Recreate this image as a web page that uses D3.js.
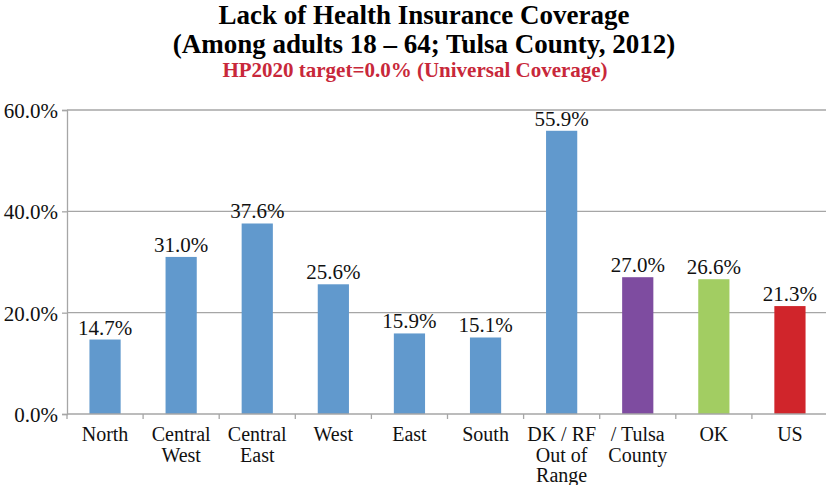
<!DOCTYPE html>
<html><head><meta charset="utf-8">
<script src="https://cdn.jsdelivr.net/npm/d3@7"></script>
<style>body{margin:0;background:#fff;} svg{display:block;} svg text{font-family:"Liberation Serif","Times New Roman",serif;}</style>
</head><body>
<svg id="c" width="826" height="485"></svg>
<script>
const categories = ["North","Central West","Central East","West","East","South","DK / RF Out of Range","Tulsa County","OK","US"];
const labelLines = [["North"],["Central","West"],["Central","East"],["West"],["East"],["South"],["DK / RF","Out of","Range"],["/ Tulsa","County"],["OK"],["US"]];
const values = [14.7,31.0,37.6,25.6,15.9,15.1,55.9,27.0,26.6,21.3];
const barColors = ["#6199cd","#6199cd","#6199cd","#6199cd","#6199cd","#6199cd","#6199cd","#7e4ca0","#a2cd62","#d0252b"];
const yTicks = [0,20,40,60];
const FONT = "'Liberation Serif','Times New Roman',serif";

const svg = d3.select("#c");
const x = d3.scaleBand().domain(categories).range([67,828]).paddingInner(0.59).paddingOuter(0.295);
const xb = d3.scaleBand().domain(categories).range([67,828]);
const y = d3.scaleLinear().domain([0,60]).range([414,110]);

// gridlines
svg.append("g").selectAll("line").data(yTicks.filter(d=>d>0)).join("line")
  .attr("x1",67).attr("x2",826).attr("y1",d=>y(d)).attr("y2",d=>y(d))
  .attr("stroke","#a6a6a6").attr("stroke-width",1.3);

// y axis
const ya = svg.append("g").attr("transform","translate(67,0)")
  .call(d3.axisLeft(y).tickValues(yTicks).tickSize(5).tickFormat(d=>d.toFixed(1)+"%"));
ya.attr("font-family",FONT);
ya.select(".domain").attr("stroke","#a6a6a6").attr("stroke-width",1.3);
ya.selectAll(".tick line").attr("stroke","#a6a6a6").attr("stroke-width",1.3);
ya.selectAll("text").attr("font-size","21px").attr("font-family",FONT).attr("fill","#111").attr("dy","0.35em").attr("x",-9);

// bars
svg.append("g").selectAll("rect").data(values).join("rect")
  .attr("x",(d,i)=>x(categories[i])).attr("width",x.bandwidth())
  .attr("y",d=>y(d)).attr("height",d=>y(0)-y(d)).attr("fill",(d,i)=>barColors[i]);

// x axis
svg.append("line").attr("x1",67).attr("x2",826).attr("y1",y(0)).attr("y2",y(0)).attr("stroke","#a6a6a6").attr("stroke-width",1.3);
const bounds = categories.map(c=>xb(c)).concat([xb(categories[categories.length-1])+xb.bandwidth()]);
svg.append("g").selectAll("line").data(bounds).join("line")
  .attr("x1",d=>d).attr("x2",d=>d).attr("y1",y(0)).attr("y2",y(0)+5)
  .attr("stroke","#a6a6a6").attr("stroke-width",1.3);

// category labels
const cl = svg.append("g").attr("font-size","20px").attr("font-family",FONT).attr("fill","#111").attr("text-anchor","middle");
labelLines.forEach((lines,i)=>{
  const cx = xb(categories[i])+xb.bandwidth()/2;
  lines.forEach((ln,j)=>cl.append("text").attr("x",cx).attr("y",441 + j*20.5).text(ln));
});

// data labels
svg.append("g").selectAll("text").data(values).join("text")
  .attr("x",(d,i)=>xb(categories[i])+xb.bandwidth()/2).attr("y",d=>y(d)-5)
  .attr("text-anchor","middle").attr("font-size","21px").attr("font-family",FONT).attr("fill","#111")
  .text(d=>d.toFixed(1)+"%");

// titles
svg.append("text").attr("x",424).attr("y",24).attr("text-anchor","middle").attr("font-size","27px").attr("font-family",FONT).attr("font-weight","bold").attr("fill","#000").text("Lack of Health Insurance Coverage");
svg.append("text").attr("x",424).attr("y",53).attr("text-anchor","middle").attr("font-size","27px").attr("font-family",FONT).attr("font-weight","bold").attr("fill","#000").text("(Among adults 18 \u2013 64; Tulsa County, 2012)");
svg.append("text").attr("x",415).attr("y",77).attr("text-anchor","middle").attr("font-size","21px").attr("font-family",FONT).attr("font-weight","bold").attr("fill","#c8283a").text("HP2020 target=0.0% (Universal Coverage)");
</script>
</body></html>
